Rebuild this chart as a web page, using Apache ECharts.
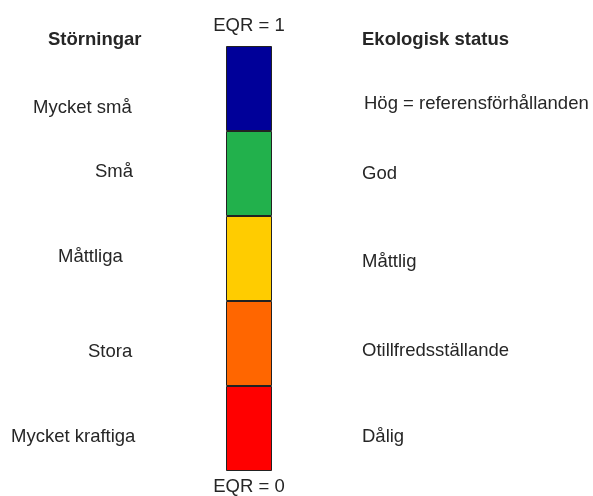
<!DOCTYPE html>
<html>
<head>
<meta charset="utf-8">
<script src="https://cdn.jsdelivr.net/npm/echarts@6/dist/echarts.min.js"></script>
<style>
html,body{margin:0;padding:0;background:#fff;}
#chart{width:593px;height:496px;}
</style>
</head>
<body>
<div id="chart"></div>
<script>
// Data
const classes = ['Dålig', 'Otillfredsställande', 'Måttlig', 'God', 'Hög'];
const classShare = [0.2, 0.2, 0.2, 0.2, 0.2];   // EQR span of each class (bottom to top)
const classColors = ['#FF0000', '#FF6600', '#FFCC00', '#22B14C', '#000099'];
const topTick = 'EQR = 1';
const bottomTick = 'EQR = 0';
const leftTitle = 'Störningar';
const rightTitle = 'Ekologisk status';
const leftLabels = ['Mycket små', 'Små', 'Måttliga', 'Stora', 'Mycket kraftiga'];
const rightLabels = ['Hög = referensförhållanden', 'God', 'Måttlig', 'Otillfredsställande', 'Dålig'];

// Layout (pixels) for annotation texts
const leftLayout = [[33, 108], [95, 172], [58, 257], [88, 352], [11, 437]];
const rightLayout = [[364, 104], [362, 174], [362, 262], [362, 351], [362, 437]];
const textColor = '#262626';
const font = '"Liberation Sans", Arial, sans-serif';
const fs = 18.5;

const chart = echarts.init(document.getElementById('chart'), null, {renderer: 'canvas'});

const series = classes.map((name, i) => ({
  name: name,
  type: 'bar',
  stack: 'eqr',
  barWidth: '100%',
  data: [classShare[i]],
  itemStyle: {color: classColors[i], borderColor: '#222', borderWidth: 1},
  emphasis: {disabled: true},
  silent: true
}));

const graphic = [];
graphic.push({type: 'text', x: 48, y: 40, style: {text: leftTitle, fontSize: fs, fontWeight: 'bold', fontFamily: font, fill: textColor, textAlign: 'left', textVerticalAlign: 'middle'}});
graphic.push({type: 'text', x: 362, y: 40, style: {text: rightTitle, fontSize: fs, fontWeight: 'bold', fontFamily: font, fill: textColor, textAlign: 'left', textVerticalAlign: 'middle'}});
leftLabels.forEach((t, i) => graphic.push({type: 'text', x: leftLayout[i][0], y: leftLayout[i][1], style: {text: t, fontSize: fs, fontFamily: font, fill: textColor, textAlign: 'left', textVerticalAlign: 'middle'}}));
rightLabels.forEach((t, i) => graphic.push({type: 'text', x: rightLayout[i][0], y: rightLayout[i][1], style: {text: t, fontSize: fs, fontFamily: font, fill: textColor, textAlign: 'left', textVerticalAlign: 'middle'}}));

chart.setOption({
  animation: false,
  backgroundColor: '#fff',
  grid: {left: 226, right: 321, top: 46, bottom: 23},
  xAxis: [
    {type: 'category', data: [bottomTick], position: 'bottom',
     axisLine: {show: false}, axisTick: {show: false},
     axisLabel: {margin: 6, fontSize: fs, fontFamily: font, color: textColor}},
    {type: 'category', data: [topTick], position: 'top',
     axisLine: {show: false}, axisTick: {show: false},
     axisLabel: {margin: 11, fontSize: fs, fontFamily: font, color: textColor}}
  ],
  yAxis: {type: 'value', min: 0, max: 1, show: false},
  series: series,
  graphic: graphic
});
</script>
</body>
</html>
